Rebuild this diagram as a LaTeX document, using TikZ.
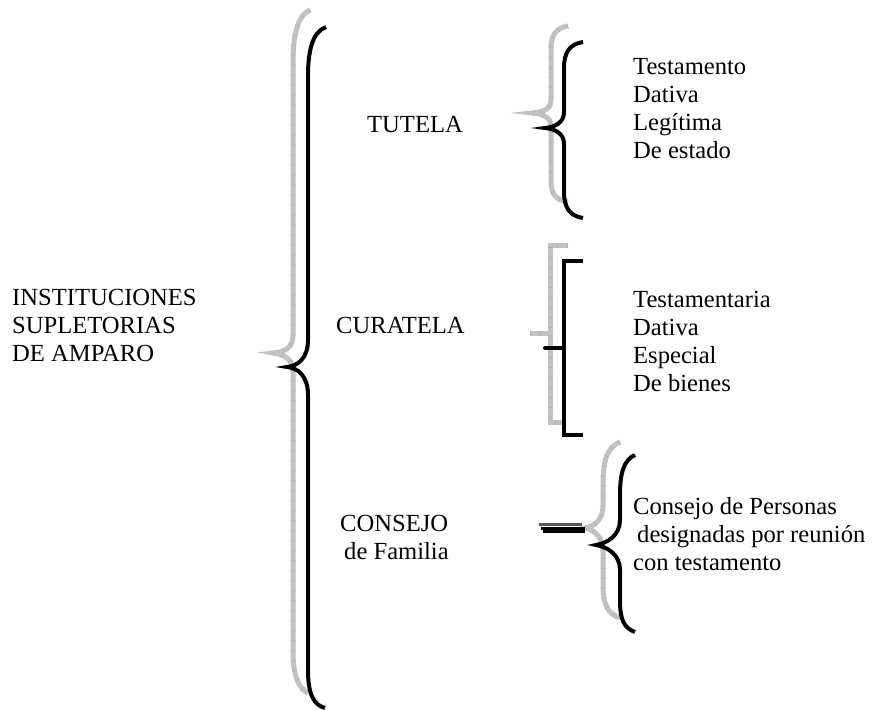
\documentclass[tikz,border=0pt]{standalone}
\usepackage{fontspec}
\setmainfont{Liberation Serif}
\usepackage{tikz}
\usetikzlibrary{positioning}

\definecolor{gris}{gray}{0.76}

\tikzset{
  texto/.style={font=\fontsize{24.6}{27.7}\selectfont, inner sep=0pt, align=left, anchor=base west},
  llavegris/.style={draw=gris, line width=5pt,
    postaction={draw, gray!60, line width=5pt, dash pattern=on 0.7pt off 9.3pt}},
  llavenegra/.style={draw=black, line width=4pt}
}

\begin{document}
\begin{tikzpicture}[x=1pt,y=-1pt]
        \useasboundingbox (0,0) rectangle (872,709);

        % textos (base = ultima linea)
        \node [texto] (inst) at (12,361) {INSTITUCIONES\\SUPLETORIAS\\DE AMPARO};
        \node [texto] (tutela) at (367,132) {TUTELA};
        \node [texto] (curatela) at (336,333) {CURATELA};
        \node [texto] (consejo) at (340,559) {CONSEJO\\\hspace*{4pt}de Familia};
        \node [texto] (lsttutela) at (633,158) {Testamento\\Dativa\\Legítima\\De estado};
        \node [texto] (lstcuratela) at (633,391) {Testamentaria\\Dativa\\Especial\\De bienes};
        \node [texto] (lstconsejo) at (633,570) {Consejo de Personas\\\hspace*{4pt}designadas por reunión\\con testamento};

        % llave principal
        \path [llavegris] (310,10) .. controls (296,16) and (293,40) .. (293,62) -- (293,335)
          .. controls (293,347) and (286,352) .. (273,353) .. controls (286,355) and (293,360) .. (293,372)
          -- (293,650) .. controls (293,675) and (298,688) .. (308,693);
        \path [llavenegra] (326,27) .. controls (312,32) and (308,52) .. (308,76) -- (308,340)
          .. controls (308,358) and (298,366) .. (287,367) .. controls (298,368) and (308,376) .. (308,395)
          -- (308,670) .. controls (308,695) and (314,705) .. (325,708);

        % tutela
        \path [llavegris] (568,26) .. controls (556,28) and (551,35) .. (551,48) -- (551,100)
          .. controls (551,109) and (544,112) .. (532,113) .. controls (544,114) and (551,118) .. (551,126)
          -- (551,180) .. controls (551,195) and (556,200) .. (568,202);
        \path [llavenegra] (583,42) .. controls (570,44) and (564,52) .. (564,68) -- (564,112)
          .. controls (564,122) and (556,127) .. (545,128) .. controls (556,129) and (564,134) .. (564,144)
          -- (564,192) .. controls (564,208) and (570,216) .. (583,218);

        % curatela
        \path [llavegris] (568,245) -- (550,245) -- (550,422) -- (563,422);
        \path [llavegris] (530,333) -- (550,333);
        \path [llavenegra] (583,261) -- (564,261) -- (564,435) -- (583,435);
        \path [llavenegra, line cap=round] (545,348) -- (564,348);

        % consejo
        \path [llavegris] (620,442) .. controls (605,448) and (603,465) .. (603,485) -- (603,505)
          .. controls (603,520) and (595,526) .. (585,528) .. controls (595,530) and (603,538) .. (603,552)
          -- (603,585) .. controls (603,605) and (608,614) .. (620,618);
        \path [llavenegra] (635,455) .. controls (623,460) and (620,475) .. (620,495) -- (620,520)
          .. controls (620,535) and (608,543) .. (596,545) .. controls (608,547) and (620,555) .. (620,570)
          -- (620,600) .. controls (620,620) and (624,628) .. (635,632);
        \draw [gray!70!black, line width=3pt] (539,524.5) -- (582,524.5);
        \draw [line width=3pt] (541,528) -- (585,528);
        \draw [line width=3pt] (543,531.5) -- (585,531.5);
    \end{tikzpicture}
\end{document}
